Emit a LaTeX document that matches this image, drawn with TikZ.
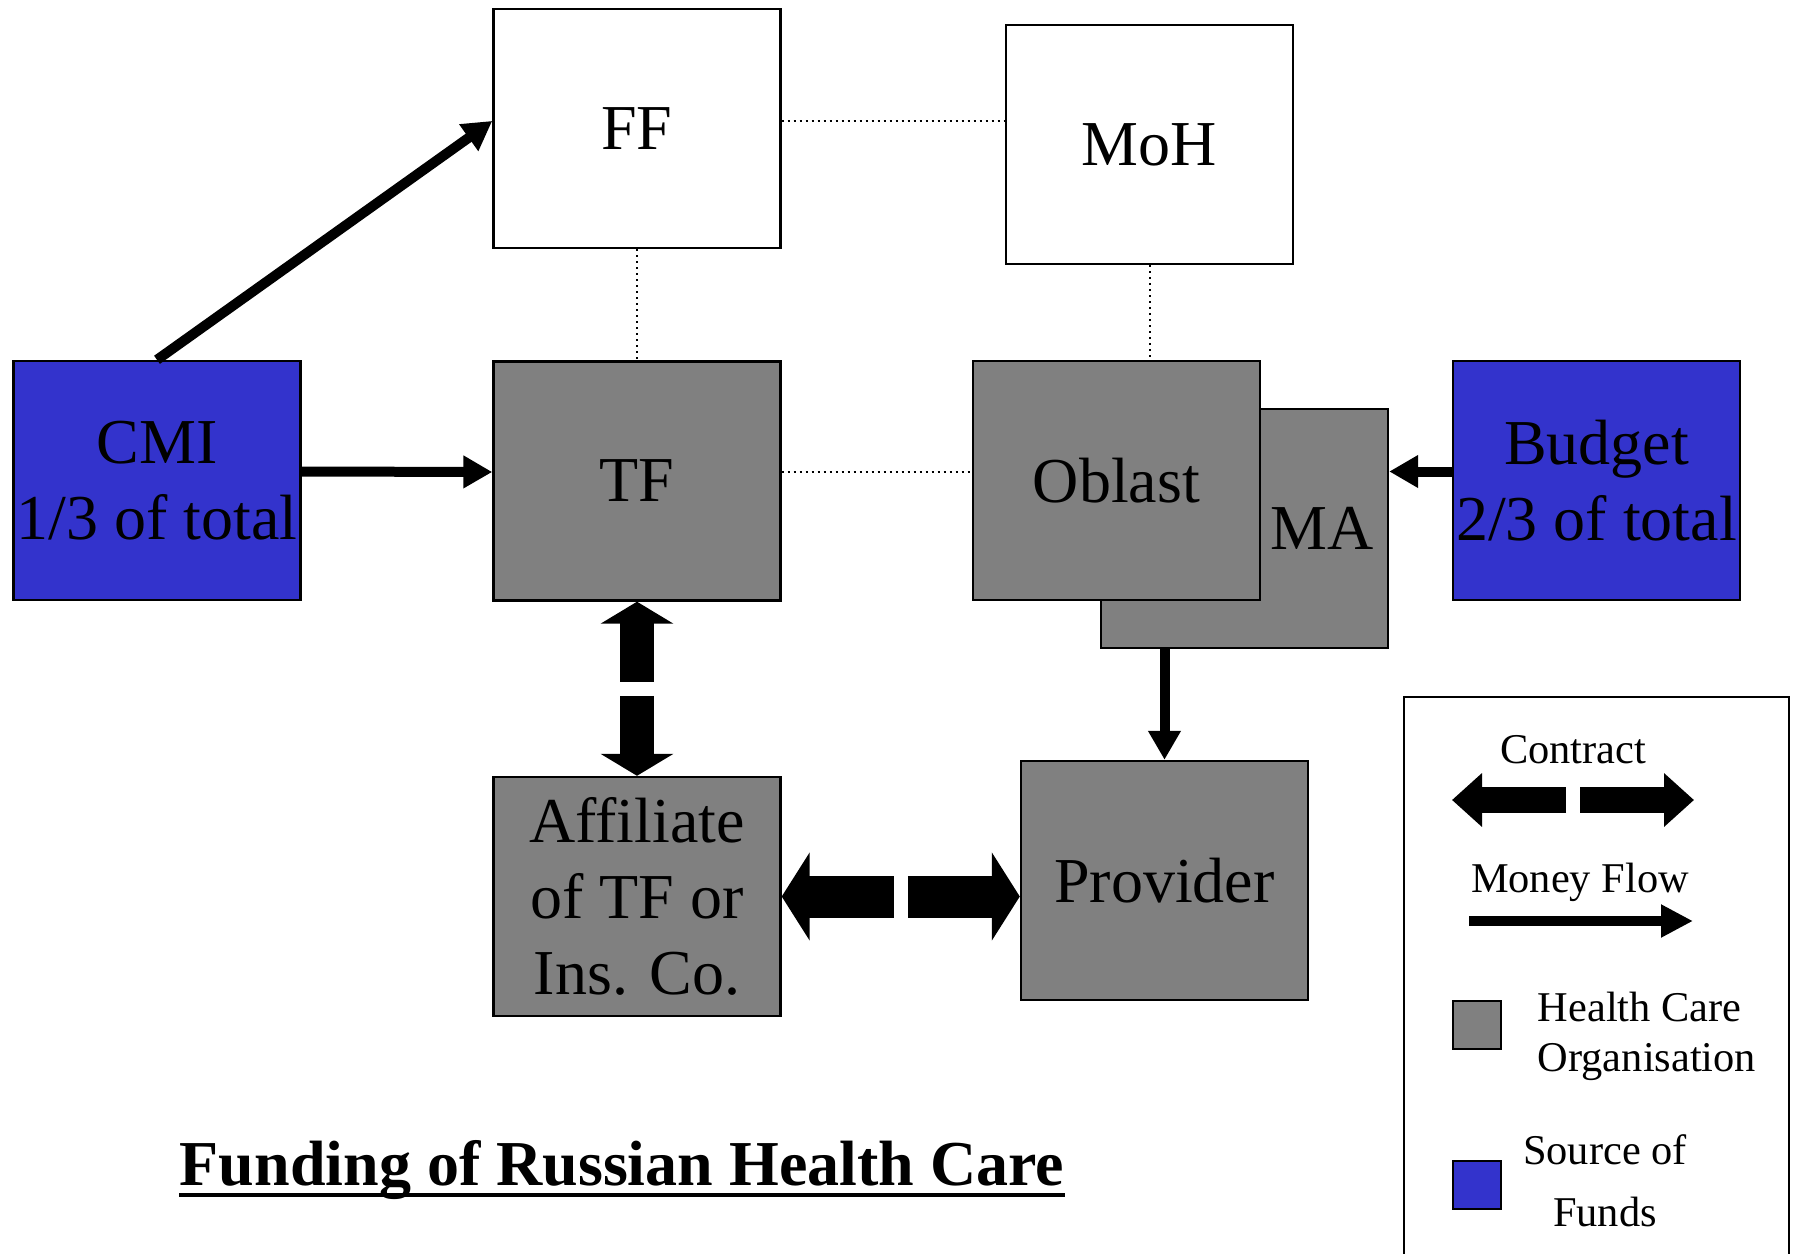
\documentclass[tikz,border=0pt]{standalone}
\usepackage{fontspec}
\setmainfont{Liberation Serif}
\usetikzlibrary{arrows.meta,calc}
\definecolor{fundblue}{RGB}{51,51,204}
\definecolor{hcgray}{RGB}{128,128,128}
\begin{document}
\begin{tikzpicture}[x=0.25pt, y=-0.25pt,
  box/.style={draw, line width=0.6pt, minimum width=71.75pt, minimum height=59.75pt,
    inner sep=0pt, align=center, font=\fontsize{16}{19}\selectfont},
  org/.style={box, fill=hcgray},
  fund/.style={box, fill=fundblue},
  money/.style={line width=2.5pt, -{Triangle[length=7.25pt,width=7.75pt]}},
  link/.style={densely dotted, line width=0.5pt},
  contract/.style n args={3}{line width=#1, -{Triangle[length=#2,width=#3]}},
  legtext/.style={inner sep=0pt, font=\fontsize{10.6}{12.5}\selectfont}]
\useasboundingbox (0,0) rectangle (1802,1254);
\node[box] (FF) at (637,128.5) {FF};
\node[box] (MoH) at (1149.5,144.5) {MoH};
\node[fund] (CMI) at (157,480.5) {CMI\\1/3 of total};
\node[org] (TF) at (637,481) {TF};
\node[org, text width=64.75pt, align=right, inner xsep=3.5pt] (MA) at (1244.5,528.5) {MA};
\node[org] (obl) at (1116.5,480.5) {Oblast};
\node[fund] (bud) at (1596.5,480.5) {Budget\\2/3 of total};
\node[org] (aff) at (637,896.5) {Affiliate\\of TF or\\Ins. Co.};
\node[org] (prov) at (1164.5,880.5) {Provider};
% dotted links
\draw[link] ([yshift=2pt]FF.east) -- ([yshift=2pt]FF.east -| MoH.west);
\draw[link] (FF.south) -- (TF.north);
\draw[link] (MoH.south) -- (MoH.south |- obl.north);
\draw[link] ([yshift=2.25pt]TF.east) -- ([yshift=2.25pt]TF.east -| obl.west);
% money flow
\draw[money] (CMI.north) -- ([yshift=1.9pt]FF.west);
\draw[money] ([yshift=2.25pt]CMI.east) -- ([yshift=2.25pt]TF.west);
\draw[money] ([yshift=2.25pt]bud.west) -- ([yshift=2.25pt]bud.west -| MA.east);
\draw[money] (MA.south -| prov.north) -- (prov.north);
% contracts
\coordinate (gapV) at ($(TF.south)!0.5!(aff.north)$);
\draw[contract={8.5pt}{5.5pt}{18pt}] ([yshift=1.75pt]gapV) -- (TF.south);
\draw[contract={8.5pt}{5.5pt}{18pt}] ([yshift=-1.75pt]gapV) -- (aff.north);
\coordinate (gapH) at ($(aff.east)!0.5!(aff.east -| prov.west)$);
\draw[contract={10.5pt}{7pt}{21.75pt}] ([xshift=-1.75pt]gapH) -- (aff.east);
\draw[contract={10.5pt}{7pt}{21.75pt}] ([xshift=1.75pt]gapH) -- (aff.east -| prov.west);
% title
\node[inner sep=0pt, anchor=base, font=\fontsize{16}{19}\selectfont\bfseries] (title) at (622,1185) {Funding of Russian Health Care};
\draw[line width=1pt] ([yshift=-2.5pt]title.base west) -- ([yshift=-2.5pt]title.base east);
% legend
\draw[line width=0.5pt] (1404,1260) -- (1404,697) -- (1789,697) -- (1789,1260);
\node[legtext, anchor=base] (lcon) at (1573,763) {Contract};
\draw[contract={6.5pt}{7.5pt}{13pt}] (1566,800) -- (1452,800);
\draw[contract={6.5pt}{7.5pt}{13pt}] (1580,800) -- (1694,800);
\node[legtext, anchor=base] (lmon) at (1580,892) {Money Flow};
\draw[line width=2.5pt, -{Triangle[length=8pt,width=7.75pt]}] (1469,921) -- (1693,921);
\draw[line width=0.6pt, fill=hcgray] (1453,1001) rectangle (1501,1049);
\node[legtext, anchor=north west, align=left] (lorg) at (1537,991) {Health Care\\Organisation};
\draw[line width=0.6pt, fill=fundblue] (1453,1161) rectangle (1501,1209);
\node[legtext, anchor=north, align=center, font=\fontsize{10.6}{15.5}\selectfont] (lfund) at (1605,1134) {Source of\\Funds};
\end{tikzpicture}
\end{document}
